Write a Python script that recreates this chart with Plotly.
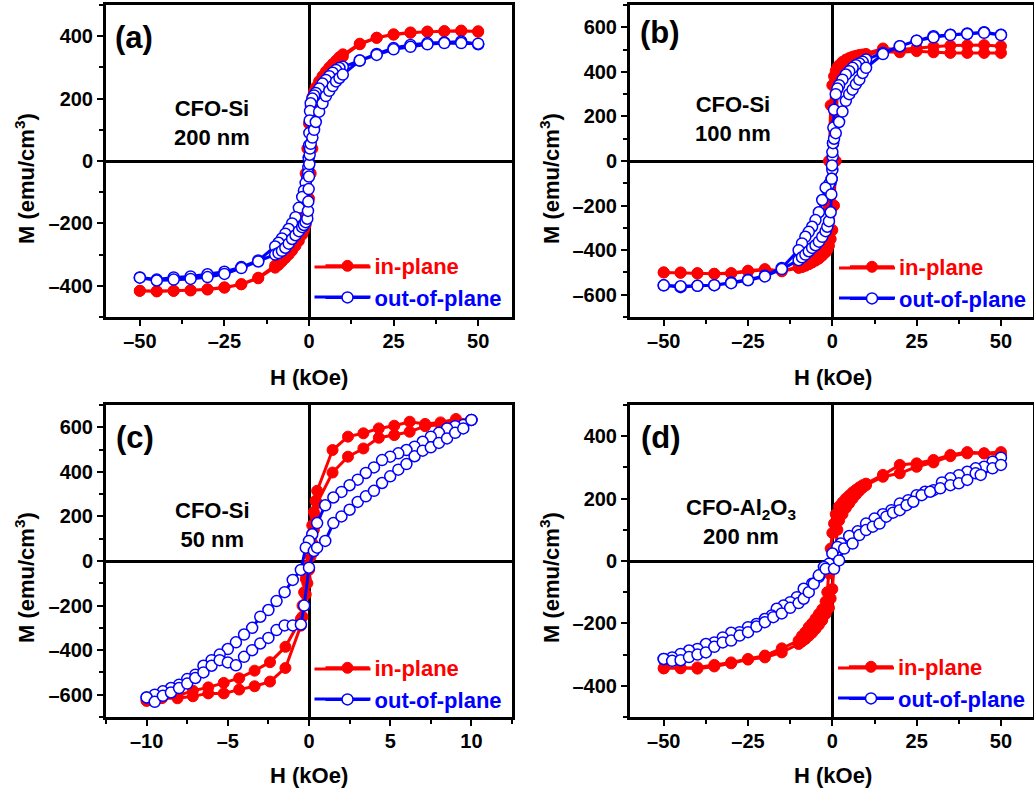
import plotly.graph_objects as go

# ---------------- data ----------------
# (a) CFO-Si 200 nm
a_in_H_down = [50,45,40,35,30,25,20,15,10,9,8,7,6,5,4,3,2,1.5,1,0.5,0,-0.5,-1,-1.5,-2,-3,-4,-5,-6,-7,-8,-9,-10,-15,-20,-25,-30,-35,-40,-45,-50]
a_in_M_down = [414,418,416,415,412,406,395,376,342,333,322,311,300,287,272,256,236,222,205,175,120,40,-40,-110,-165,-210,-240,-262,-280,-295,-310,-323,-335,-374,-395,-405,-411,-414,-416,-417,-416]
a_in_H_up = [-50,-45,-40,-35,-30,-25,-20,-15,-10,-9,-8,-7,-6,-5,-4,-3,-2,-1.5,-1,-0.5,0,0.5,1,1.5,2,3,4,5,6,7,8,9,10,15,20,25,30,35,40,45,50]
a_in_M_up = [-416,-418,-416,-415,-412,-406,-395,-376,-342,-333,-322,-311,-300,-287,-272,-256,-236,-222,-205,-175,-120,-40,40,110,165,210,240,262,280,295,310,323,335,374,395,405,411,414,416,417,416]

a_out_H_down = [50,45,40,35,30,25,20,15,10,9,8,7,6,5,4,3,2,1.5,1,0.5,0.3,0.2,0.1,0,-0.1,-0.2,-0.3,-0.5,-1,-1.5,-2,-3,-4,-5,-6,-7,-8,-9,-10,-15,-20,-25,-30,-35,-40,-45,-50]
a_out_M_down = [374,383,380,378,372,362,343,322,302,298,292,283,272,260,248,232,218,210,200,185,160,130,90,50,10,-20,-40,-55,-70,-95,-115,-150,-180,-200,-218,-233,-248,-262,-274,-319,-340,-355,-363,-370,-373,-380,-373]
a_out_H_up = [-50,-45,-40,-35,-30,-25,-20,-15,-10,-9,-8,-7,-6,-5,-4,-3,-2,-1.5,-1,-0.5,-0.3,-0.2,-0.1,0,0.1,0.2,0.3,0.5,1,1.5,2,3,4,5,6,7,8,9,10,15,20,25,30,35,40,45,50]
a_out_M_up = [-374,-383,-380,-378,-372,-362,-343,-322,-300,-295,-288,-278,-265,-250,-238,-225,-212,-205,-196,-185,-160,-130,-90,-50,-10,20,40,55,75,100,125,158,185,208,225,240,255,266,277,322,340,358,366,374,378,378,376]

# (b) CFO-Si 100 nm
b_in_H_down = [50,45,40,35,30,25,20,15,10,9,8,7,6,5,4,3,2,1.5,1,0.5,0,-0.5,-1,-1.2,-1.5,-2,-3,-4,-5,-6,-7,-8,-9,-10,-15,-20,-25,-30,-35,-40,-45,-50]
b_in_M_down = [515,520,519,518,513,507,500,505,480,478,476,472,468,462,455,445,430,420,405,380,340,250,0,-200,-330,-380,-410,-430,-445,-455,-463,-470,-476,-480,-495,-488,-495,-505,-506,-503,-500,-500]
b_in_H_up = [-50,-45,-40,-35,-30,-25,-20,-15,-10,-9,-8,-7,-6,-5,-4,-3,-2,-1.5,-1,-0.5,0,0.5,1,1.2,1.5,2,3,4,5,6,7,8,9,10,15,20,25,30,35,40,45,50]
b_in_M_up = [-500,-502,-505,-506,-503,-492,-485,-493,-475,-472,-468,-462,-455,-447,-438,-425,-410,-398,-380,-350,-310,-200,0,200,320,370,400,420,435,445,455,462,470,478,490,488,493,488,485,485,485,485]

b_out_H_down = [50,45,40,35,30,25,20,15,10,9,8,7,6,5,4,3,2,1.5,1,0.5,0.3,0.2,0.1,0,-0.2,-0.5,-1,-2,-3,-4,-5,-6,-7,-8,-9,-10,-15,-20,-25,-30,-35,-40,-45,-50]
b_out_M_down = [567,578,572,567,560,540,515,485,455,445,438,430,418,403,388,365,340,325,300,230,150,80,20,-40,-80,-95,-105,-120,-175,-230,-265,-295,-318,-340,-370,-400,-480,-515,-533,-545,-557,-560,-566,-558]
b_out_H_up = [-50,-45,-40,-35,-30,-25,-20,-15,-10,-9,-8,-7,-6,-5,-4,-3,-2,-1.5,-1,-0.5,-0.3,-0.2,-0.1,0,0.2,0.5,1,2,3,4,5,6,7,8,9,10,15,20,25,30,35,40,45,50]
b_out_M_up = [-558,-562,-560,-557,-548,-535,-518,-485,-445,-432,-420,-405,-390,-378,-362,-340,-315,-295,-270,-230,-150,-80,-20,40,80,100,125,175,222,270,300,320,345,365,395,418,480,515,540,555,565,570,575,565]

# (c) CFO-Si 50 nm
c_in_H_down = [10,9.05,8.1,7.15,6.2,5.25,4.3,3.35,2.4,1.45,0.5,0.4,0.3,0.2,0.1,0,-0.1,-0.2,-0.3,-0.4,-0.5,-1.45,-2.4,-3.35,-4.3,-5.25,-6.2,-7.15,-8.1,-9.05,-10]
c_in_M_down = [633,637,622,615,625,607,595,573,558,498,315,270,220,160,100,40,-20,-80,-140,-200,-260,-385,-454,-492,-526,-547,-567,-582,-605,-612,-627]
c_in_H_up = [-10,-9.05,-8.1,-7.15,-6.2,-5.25,-4.3,-3.35,-2.4,-1.45,-0.5,-0.4,-0.3,-0.2,-0.1,0,0.1,0.2,0.3,0.4,0.5,1.45,2.4,3.35,4.3,5.25,6.2,7.15,8.1,9.05,10]
c_in_M_up = [-627,-615,-616,-607,-594,-594,-577,-562,-541,-480,-290,-250,-200,-150,-100,-40,20,80,140,200,260,397,468,505,553,565,580,605,613,625,633]

c_out_H_down = [10,9.5,9,8.5,8,7.5,7,6.5,6,5.5,5,4.5,4,3.5,3,2.5,2,1.5,1,0.5,0.2,0,-0.2,-0.5,-1,-1.5,-2,-2.5,-3,-3.5,-4,-4.5,-5,-5.5,-6,-6.5,-7,-7.5,-8,-8.5,-9,-9.5,-10]
c_out_M_down = [633,610,605,595,575,558,535,513,498,483,468,453,420,395,365,340,310,285,250,170,120,90,60,-40,-85,-140,-180,-220,-250,-300,-330,-365,-395,-420,-445,-470,-510,-530,-555,-570,-585,-600,-612]
c_out_H_up = [-10,-9.5,-9,-8.5,-8,-7.5,-7,-6.5,-6,-5.5,-5,-4.5,-4,-3.5,-3,-2.5,-2,-1.5,-1,-0.5,-0.3,0,0.3,0.5,1,1.5,2,2.5,3,3.5,4,4.5,5,5.5,6,6.5,7,7.5,8,8.5,9,9.5,10]
c_out_M_up = [-612,-632,-605,-590,-570,-550,-525,-500,-470,-445,-455,-468,-430,-400,-370,-345,-310,-289,-289,-285,-200,-30,45,60,90,170,200,230,265,290,315,350,380,410,435,470,495,510,530,550,575,595,633]

# (d) CFO-Al2O3 200 nm
d_in_H_down = [50,45,40,35,30,25,20,15,10,9,8,7,6,5,4,3,2,1,0.5,0,-0.5,-1,-1.5,-2,-3,-4,-5,-6,-7,-8,-9,-10,-15,-20,-25,-30,-35,-40,-45,-50]
d_in_M_down = [349,345,349,340,324,313,308,276,248,243,236,228,220,210,200,188,175,150,120,90,40,-40,-100,-130,-155,-170,-185,-200,-212,-228,-240,-255,-280,-303,-314,-325,-333,-341,-344,-344]
d_in_H_up = [-50,-45,-40,-35,-30,-25,-20,-15,-10,-9,-8,-7,-6,-5,-4,-3,-2,-1,-0.5,0,0.5,1,1.5,2,3,4,5,6,7,8,9,10,15,20,25,30,35,40,45,50]
d_in_M_up = [-344,-342,-345,-338,-328,-316,-309,-293,-266,-258,-250,-240,-230,-218,-205,-190,-170,-150,-120,-90,-20,40,100,130,150,170,185,200,213,225,235,243,270,281,302,316,336,345,345,340]

d_out_H_down = [50,47.5,45,42.5,40,37.5,35,32.5,30,27.5,25,22.5,20,17.5,15,12.5,10,7.5,5,2.5,1.5,0,-1,-2.5,-4,-6,-8.5,-10.5,-12.5,-14.5,-16.5,-18,-20,-22.5,-25,-27.5,-30,-32.5,-35,-37.5,-40,-42.5,-45,-47.5,-50]
d_out_M_down = [331,318,302,297,286,275,265,252,227,222,211,195,184,163,150,136,120,95,80,56,45,24,-9,-19,-51,-73,-89,-116,-132,-143,-153,-175,-186,-202,-212,-228,-230,-245,-261,-266,-282,-287,-298,-309,-314]
d_out_H_up = [-50,-47.5,-45,-42.5,-40,-37.5,-35,-32.5,-30,-27.5,-25,-22.5,-20,-17.5,-15,-12.5,-10,-8.5,-7,-5.5,-4,-2,0.5,2,3.5,6,8,10,12,14,16,18,20,22,24,26.5,29,32,35,37.5,40,42.5,44,47.5,50]
d_out_M_up = [-314,-320,-318,-308,-300,-293,-275,-261,-255,-239,-228,-210,-196,-180,-168,-150,-135,-121,-100,-73,-46,-25,-25,2,40,56,83,99,110,120,142,155,163,179,190,211,222,233,243,249,260,281,276,297,308]

# tick values / labels
x_ticks_wide = [-50, -25, 0, 25, 50]
x_ticktext_wide = ["–50", "–25", "0", "25", "50"]
x_ticks_narrow = [-10, -5, 0, 5, 10]
x_ticktext_narrow = ["–10", "–5", "0", "5", "10"]
y_ticks_400 = [-400, -200, 0, 200, 400]
y_ticktext_400 = ["–400", "–200", "0", "200", "400"]
y_ticks_600 = [-600, -400, -200, 0, 200, 400, 600]
y_ticktext_600 = ["–600", "–400", "–200", "0", "200", "400", "600"]

panel_letters = ["(a)", "(b)", "(c)", "(d)"]
sample_labels = ["CFO-Si<br>200 nm", "CFO-Si<br>100 nm", "CFO-Si<br>50 nm",
                 "CFO-Al<sub>2</sub>O<sub>3</sub><br>200 nm"]
series_names = ["in-plane", "out-of-plane"]
x_title = "H (kOe)"
y_title = "M (emu/cm<sup>3</sup>)"

panels = [
    (a_in_H_down + a_in_H_up, a_in_M_down + a_in_M_up, a_out_H_down + a_out_H_up, a_out_M_down + a_out_M_up),
    (b_in_H_down + b_in_H_up, b_in_M_down + b_in_M_up, b_out_H_down + b_out_H_up, b_out_M_down + b_out_M_up),
    (c_in_H_down + c_in_H_up, c_in_M_down + c_in_M_up, c_out_H_down + c_out_H_up, c_out_M_down + c_out_M_up),
    (d_in_H_down + d_in_H_up, d_in_M_down + d_in_M_up, d_out_H_down + d_out_H_up, d_out_M_down + d_out_M_up),
]

# ---------------- layout geometry ----------------
W, H = 1034, 792
def px_x(p): return p / W
def px_y(p): return 1 - p / H

x_domains = [(106, 512), (630, 1033), (106, 512), (630, 1033)]
y_domains = [(5, 317), (5, 317), (405, 717), (405, 717)]
x_ranges = [(-60, 60), (-60, 59.5), (-12.5, 12.5), (-60, 59.5)]
x_minor = [12.5, 12.5, 2.5, 12.5]
x_tickv = [(x_ticks_wide, x_ticktext_wide), (x_ticks_wide, x_ticktext_wide),
           (x_ticks_narrow, x_ticktext_narrow), (x_ticks_wide, x_ticktext_wide)]
y_ranges = [(-500, 500), (-700, 700), (-700, 700), (-500, 500)]
y_tickv = [(y_ticks_400, y_ticktext_400), (y_ticks_600, y_ticktext_600),
           (y_ticks_600, y_ticktext_600), (y_ticks_400, y_ticktext_400)]

RED = "rgb(255,0,0)"
BLUE = "rgb(0,0,255)"
FONT = "Liberation Sans, Arial, sans-serif"

fig = go.Figure()
legend_names = ["legend", "legend2", "legend3", "legend4"]

for i, (hx_in, m_in, hx_out, m_out) in enumerate(panels):
    xa = "x" if i == 0 else f"x{i+1}"
    ya = "y" if i == 0 else f"y{i+1}"
    fig.add_trace(go.Scatter(
        x=hx_in, y=m_in, xaxis=xa, yaxis=ya, mode="lines+markers",
        name=f'<span style="color:{RED}">{series_names[0]}</span>',
        line=dict(color=RED, width=3),
        marker=dict(symbol="circle", size=11, color=RED, line=dict(color=RED, width=1)),
        legend=legend_names[i], showlegend=True))
    fig.add_trace(go.Scatter(
        x=hx_out, y=m_out, xaxis=xa, yaxis=ya, mode="lines+markers",
        name=f'<span style="color:{BLUE}">{series_names[1]}</span>',
        line=dict(color=BLUE, width=3),
        marker=dict(symbol="circle", size=11, color="white", line=dict(color=BLUE, width=1.5)),
        legend=legend_names[i], showlegend=True))

axis_common = dict(
    showline=True, linecolor="black", linewidth=3, mirror=True,
    ticks="outside", ticklen=6, tickwidth=2, tickcolor="black",
    showgrid=False, zeroline=True, zerolinecolor="black", zerolinewidth=2.5,
    tickfont=dict(family=FONT, size=20, color="black", weight="bold"),
    automargin=False, tickmode="array",
)

layout = dict(width=W, height=H, margin=dict(l=0, r=0, t=0, b=0, autoexpand=False),
              paper_bgcolor="white", plot_bgcolor="white", showlegend=True)

for i in range(4):
    xk = "xaxis" if i == 0 else f"xaxis{i+1}"
    yk = "yaxis" if i == 0 else f"yaxis{i+1}"
    ya = "y" if i == 0 else f"y{i+1}"
    xa = "x" if i == 0 else f"x{i+1}"
    layout[xk] = dict(axis_common, domain=[px_x(x_domains[i][0]), px_x(x_domains[i][1])],
                      range=list(x_ranges[i]), tickvals=x_tickv[i][0], ticktext=x_tickv[i][1],
                      anchor=ya, ticklabelstandoff=-2,
                      minor=dict(ticks="outside", ticklen=4, tickwidth=2, tickcolor="black",
                                 tickmode="linear", dtick=x_minor[i], tick0=0))
    layout[yk] = dict(axis_common, domain=[px_y(y_domains[i][1]), px_y(y_domains[i][0])],
                      range=list(y_ranges[i]), tickvals=y_tickv[i][0], ticktext=y_tickv[i][1],
                      anchor=xa,
                      minor=dict(ticks="outside", ticklen=4, tickwidth=2, tickcolor="black",
                                 tickmode="linear", dtick=100, tick0=0))

# legend placement: text start x, first-row centre y (pixels)
legend_text_x = [376.5, 901, 376.5, 900]
legend_row_y = [267, 268, 669, 668]
LEG_ITEMW = 44
shapes = []
for i, ln in enumerate(legend_names):
    left = legend_text_x[i] - 56
    top = legend_row_y[i] - 22
    layout[ln] = dict(x=px_x(left), y=px_y(top), xanchor="left", yanchor="top",
                      bgcolor="rgba(0,0,0,0)", borderwidth=0, tracegroupgap=0,
                      itemwidth=LEG_ITEMW,
                      font=dict(family=FONT, size=22, weight="bold"))
    # extend the legend sample lines to the reference's longer length
    for k, col in enumerate([RED, BLUE]):
        yy = legend_row_y[i] + k * 30
        shapes.append(dict(type="line", xref="paper", yref="paper",
                           x0=px_x(legend_text_x[i] - 62), x1=px_x(legend_text_x[i] - 6),
                           y0=px_y(yy), y1=px_y(yy), line=dict(color=col, width=3), layer="above"))

fig.update_layout(**layout)

ann = []
letter_pos = [(133.5, 37), (659.5, 33), (134.5, 437), (661, 437)]
label_pos = [(212, 123), (733, 119.5), (212.5, 524.5), (741, 522)]
xt_pos = [(309, 377), (833, 377), (309, 775), (833, 775)]
yt_pos = [(25, 179), (550, 179), (25, 578), (550, 578)]
for i in range(4):
    ann.append(dict(text=panel_letters[i], x=px_x(letter_pos[i][0]), y=px_y(letter_pos[i][1]),
                    xref="paper", yref="paper", showarrow=False, xanchor="center", yanchor="middle",
                    font=dict(family=FONT, size=31, color="black", weight="bold")))
    ann.append(dict(text=sample_labels[i], x=px_x(label_pos[i][0]), y=px_y(label_pos[i][1]),
                    xref="paper", yref="paper", showarrow=False, xanchor="center", yanchor="middle",
                    align="center", font=dict(family=FONT, size=22, color="black", weight="bold")))
    ann.append(dict(text=x_title, x=px_x(xt_pos[i][0]), y=px_y(xt_pos[i][1]),
                    xref="paper", yref="paper", showarrow=False, xanchor="center", yanchor="middle",
                    font=dict(family=FONT, size=22, color="black", weight="bold")))
    ann.append(dict(text=y_title, x=px_x(yt_pos[i][0]), y=px_y(yt_pos[i][1]), textangle=-90,
                    xref="paper", yref="paper", showarrow=False, xanchor="center", yanchor="middle",
                    font=dict(family=FONT, size=22, color="black", weight="bold")))
fig.update_layout(annotations=ann, shapes=shapes)

fig.write_html("out.html", config={"displayModeBar": False},
               post_script="document.body.style.margin='0';document.body.style.overflow='hidden';")
